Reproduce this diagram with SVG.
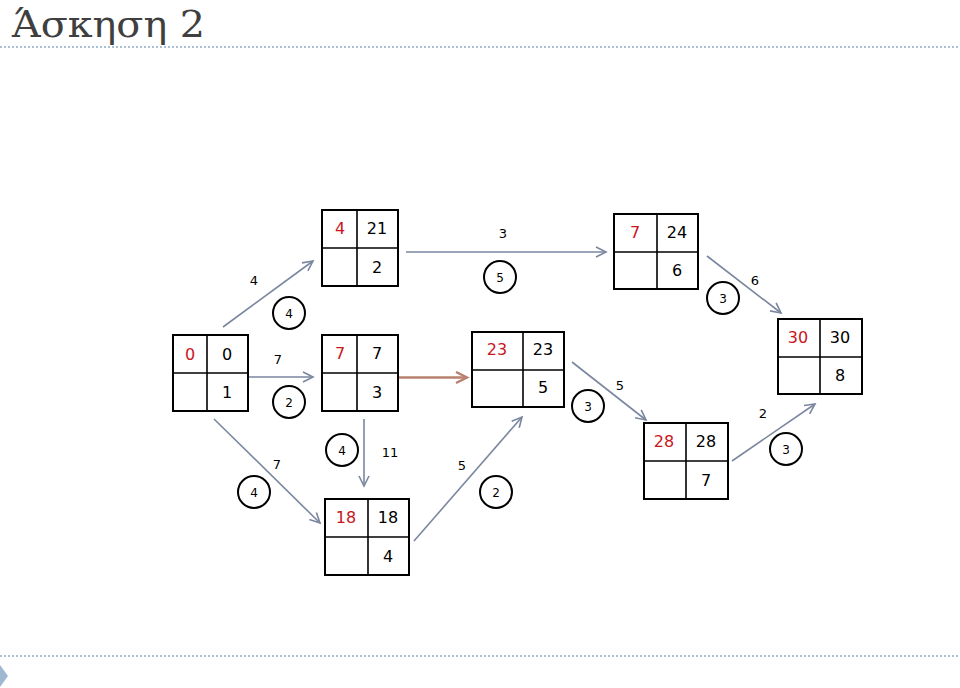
<svg xmlns="http://www.w3.org/2000/svg" width="960" height="688" viewBox="0 0 960 688">
<defs>
<marker id="ah" markerWidth="14" markerHeight="14" refX="11" refY="6" orient="auto" markerUnits="userSpaceOnUse">
<path d="M1,1 L11,6 L1,11" fill="none" stroke="#7b879f" stroke-width="1.6"/>
</marker>
<marker id="ahb" markerWidth="16" markerHeight="16" refX="12" refY="7" orient="auto" markerUnits="userSpaceOnUse">
<path d="M1,1.5 L12,7 L1,12.5" fill="none" stroke="#b8806e" stroke-width="2.4"/>
</marker>
</defs>
<style>
.box{fill:#fff;stroke:#000;stroke-width:2}
.div{stroke:#000;stroke-width:1.6}
.v{font-family:"DejaVu Sans",sans-serif;font-size:16px;fill:#000;text-anchor:middle}
.r{fill:#c8161d}
.lbl{font-family:"DejaVu Sans",sans-serif;font-size:13px;fill:#000;text-anchor:middle}
.c{fill:none;stroke:#000;stroke-width:2}
.cl{font-family:"DejaVu Sans",sans-serif;font-size:12px;fill:#000;text-anchor:middle}
.e{fill:none;stroke:#7b879f;stroke-width:1.6;marker-end:url(#ah)}
.sep{stroke:#a9bfd4;stroke-width:2;stroke-dasharray:2 2}
</style>
<rect width="960" height="688" fill="#fff"/>
<text x="12" y="37" font-family="DejaVu Serif Condensed, DejaVu Serif, serif" font-size="37" fill="#3f3f3f" textLength="193" lengthAdjust="spacingAndGlyphs">Άσκηση 2</text>
<line class="sep" x1="0" y1="47" x2="960" y2="47"/>
<line class="sep" x1="0" y1="656" x2="960" y2="656"/>
<polygon points="0,665 8,676 0,687" fill="#9fb8cf"/>

<g id="connectors">
<line class="e" x1="223" y1="327" x2="313" y2="261"/>
<line class="e" x1="249" y1="377" x2="313" y2="377"/>
<line class="e" x1="214" y1="419" x2="320" y2="523"/>
<line class="e" x1="364" y1="419" x2="364" y2="486"/>
<line class="e" x1="406" y1="252" x2="606" y2="252"/>
<line x1="398" y1="377.5" x2="467" y2="377.5" stroke="#b8806e" stroke-width="2.4" marker-end="url(#ahb)"/>
<line class="e" x1="414" y1="541" x2="522" y2="417"/>
<line class="e" x1="572" y1="362" x2="646" y2="420"/>
<line class="e" x1="707" y1="256" x2="781" y2="313"/>
<line class="e" x1="732" y1="461" x2="815" y2="404"/>
</g>

<g id="edge-labels">
<text class="lbl" x="254" y="285">4</text>
<circle class="c" cx="289" cy="313" r="16"/><text class="cl" x="289" y="318">4</text>
<text class="lbl" x="278" y="364">7</text>
<circle class="c" cx="289" cy="402" r="16"/><text class="cl" x="289" y="407">2</text>
<text class="lbl" x="277" y="469">7</text>
<circle class="c" cx="254" cy="492" r="16"/><text class="cl" x="254" y="497">4</text>
<circle class="c" cx="342" cy="450" r="16"/><text class="cl" x="342" y="455">4</text>
<text class="lbl" x="390" y="457">11</text>
<text class="lbl" x="503" y="238">3</text>
<circle class="c" cx="500" cy="277" r="16"/><text class="cl" x="500" y="282">5</text>
<text class="lbl" x="462" y="470">5</text>
<circle class="c" cx="496" cy="492" r="16"/><text class="cl" x="496" y="497">2</text>
<text class="lbl" x="620" y="390">5</text>
<circle class="c" cx="588" cy="406" r="16"/><text class="cl" x="588" y="411">3</text>
<text class="lbl" x="755" y="285">6</text>
<circle class="c" cx="723" cy="298" r="16"/><text class="cl" x="723" y="303">3</text>
<text class="lbl" x="763" y="418">2</text>
<circle class="c" cx="786" cy="449" r="16"/><text class="cl" x="786" y="454">3</text>
</g>

<g id="node-A">
<rect class="box" x="173" y="335" width="75" height="76"/>
<line class="div" x1="207" y1="335" x2="207" y2="411"/>
<line class="div" x1="173" y1="373" x2="248" y2="373"/>
<text class="v r" x="190" y="360">0</text>
<text class="v" x="227" y="360">0</text>
<text class="v" x="227" y="398">1</text>
</g>

<g id="node-B">
<rect class="box" x="322" y="210" width="76" height="76"/>
<line class="div" x1="357" y1="210" x2="357" y2="286"/>
<line class="div" x1="322" y1="248" x2="398" y2="248"/>
<text class="v r" x="340" y="234">4</text>
<text class="v" x="377" y="234">21</text>
<text class="v" x="377" y="273">2</text>
</g>

<g id="node-C">
<rect class="box" x="322" y="335" width="76" height="76"/>
<line class="div" x1="357" y1="335" x2="357" y2="411"/>
<line class="div" x1="322" y1="373" x2="398" y2="373"/>
<text class="v r" x="340" y="359">7</text>
<text class="v" x="377" y="359">7</text>
<text class="v" x="377" y="398">3</text>
</g>

<g id="node-D">
<rect class="box" x="614" y="214" width="84" height="75"/>
<line class="div" x1="657" y1="214" x2="657" y2="289"/>
<line class="div" x1="614" y1="252" x2="698" y2="252"/>
<text class="v r" x="635" y="238">7</text>
<text class="v" x="677" y="238">24</text>
<text class="v" x="677" y="276">6</text>
</g>

<g id="node-E">
<rect class="box" x="472" y="332" width="92" height="75"/>
<line class="div" x1="523" y1="332" x2="523" y2="407"/>
<line class="div" x1="472" y1="370" x2="564" y2="370"/>
<text class="v r" x="497" y="355">23</text>
<text class="v" x="543" y="355">23</text>
<text class="v" x="543" y="393">5</text>
</g>

<g id="node-F">
<rect class="box" x="778" y="319" width="84" height="75"/>
<line class="div" x1="820" y1="319" x2="820" y2="394"/>
<line class="div" x1="778" y1="357" x2="862" y2="357"/>
<text class="v r" x="798" y="343">30</text>
<text class="v" x="840" y="343">30</text>
<text class="v" x="840" y="381">8</text>
</g>

<g id="node-G">
<rect class="box" x="644" y="423" width="84" height="76"/>
<line class="div" x1="686" y1="423" x2="686" y2="499"/>
<line class="div" x1="644" y1="461" x2="728" y2="461"/>
<text class="v r" x="664" y="447">28</text>
<text class="v" x="706" y="447">28</text>
<text class="v" x="706" y="486">7</text>
</g>

<g id="node-H">
<rect class="box" x="325" y="499" width="84" height="76"/>
<line class="div" x1="368" y1="499" x2="368" y2="575"/>
<line class="div" x1="325" y1="537" x2="409" y2="537"/>
<text class="v r" x="346" y="523">18</text>
<text class="v" x="388" y="523">18</text>
<text class="v" x="388" y="562">4</text>
</g>
</svg>
